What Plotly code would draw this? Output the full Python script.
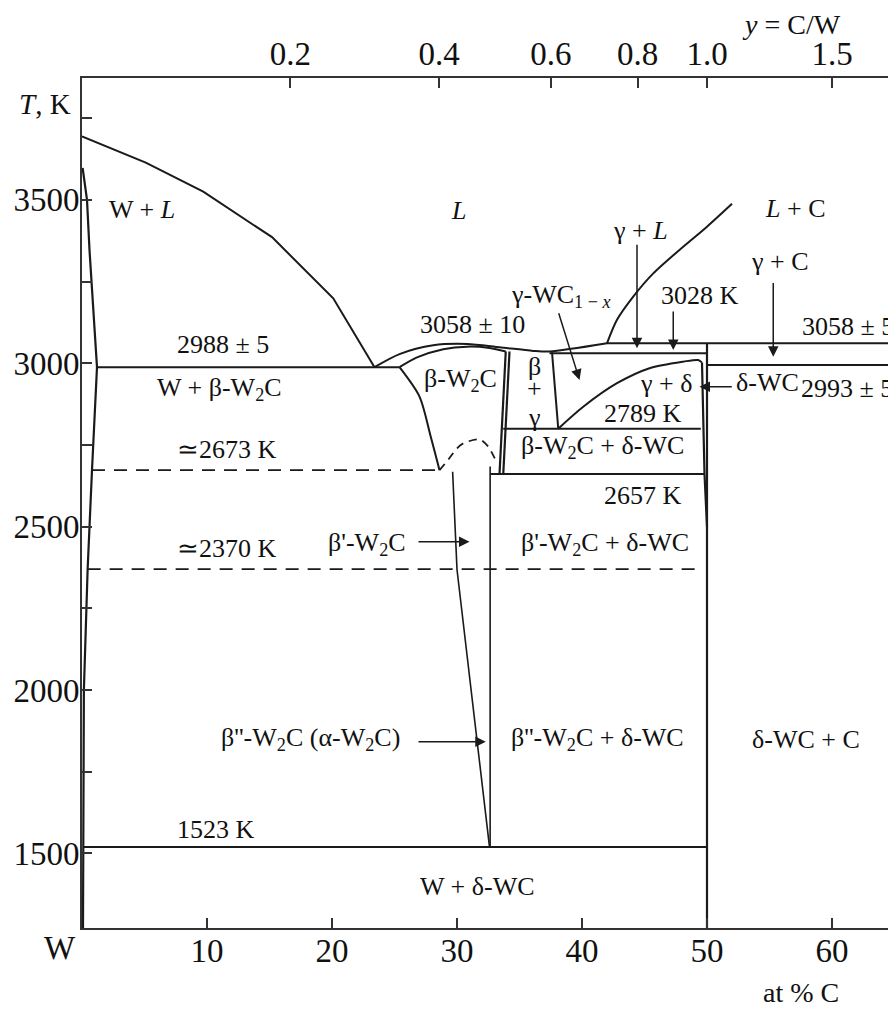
import plotly.graph_objects as go

# ---------------- data ----------------
# W-rich liquidus
liq_w_x = [0.0, 5.1, 9.7, 15.2, 20.1, 23.4]
liq_w_T = [3694, 3614, 3525, 3386, 3199, 2988]
# W solidus / solvus
sol_w_x = [0.05, 0.4, 0.6, 1.2, 0.8, 0.45, 0.15, 0.08]
sol_w_T = [3598, 3500, 3347, 2988, 2673, 2370, 2000, 1272]
# liquidus over beta-W2C and gamma
liq_mid_x = [23.4, 25.4, 28.1, 30.8, 33.4, 36.1, 37.4, 42.0]
liq_mid_T = [2988, 3028, 3055, 3059, 3049, 3038, 3036, 3061]
# beta-W2C solidus
sol_beta_x = [25.4, 26.8, 28.9, 30.8, 32.6, 33.9]
sol_beta_T = [2988, 3018, 3043, 3051, 3047, 3036]
# beta-W2C left solvus
solv_beta_x = [25.4, 27.0, 27.9, 28.6]
solv_beta_T = [2988, 2898, 2775, 2673]
# beta-W2C right boundary and beta+gamma left boundary
beta_r_x = [33.9, 33.4]
beta_r_T = [3036, 2661]
bg_l_x = [34.2, 33.7]
bg_l_T = [3036, 2661]
# beta+gamma right boundary
bg_r_x = [37.6, 38.1]
bg_r_T = [3034, 2800]
# gamma + delta boundary
gd_x = [38.1, 40.1, 42.8, 45.4, 48.1, 49.3, 49.6]
gd_T = [2800, 2867, 2939, 2985, 3005, 3010, 3002]
# delta-WC left boundary
dl_x = [49.6, 49.8, 50.0]
dl_T = [3002, 2661, 2500]
# WC line compound
wc_x = [50.0, 50.0]
wc_T = [3061, 1272]
# carbon-side liquidus
liq_c_x = [42.0, 42.8, 44.1, 45.7, 47.8, 50.0, 52.0]
liq_c_T = [3061, 3133, 3204, 3275, 3347, 3418, 3488]
# beta' / beta'' boundaries
bp_l_x = [29.65, 30.0, 32.6]
bp_l_T = [2668, 2369, 1520]
bp_r_x = [32.65, 32.65]
bp_r_T = [2684, 1520]
# dashed dome
dome_x = [28.6, 29.3, 30.0, 30.5, 31.8, 32.5, 33.2]
dome_T = [2673, 2705, 2740, 2755, 2767, 2745, 2694]
# isotherms: (x from, x to, T)
iso_solid = [
    (1.2, 25.4, 2988),
    (33.7, 49.5, 2800),
    (32.65, 49.8, 2661),
    (0.08, 50.0, 1520),
    (37.4, 50.0, 3031),
    (42.0, 66.0, 3061),
    (50.0, 66.0, 2995),
]
iso_dashed = [
    (0.8, 28.6, 2673),
    (0.45, 49.5, 2370),
]
# axes
x_ticks = [10, 20, 30, 40, 50, 60]
y_ticks = [1500, 2000, 2500, 3000, 3500]
y_minor = [1750, 2250, 2750, 3250, 3750]
ratio_ticks = [0.2, 0.4, 0.6, 0.8, 1.0, 1.5]
ratio_labels = ["0.2", "0.4", "0.6", "0.8", "1.0", "1.5"]

# ---------------- figure ----------------
INK = "#1a1a1a"
FONT = "Liberation Serif"
fig = go.Figure()


def add_line(xs, ts, width=2.0, dash=None, shape="linear"):
    fig.add_trace(go.Scatter(
        x=xs, y=ts, mode="lines",
        line=dict(color=INK, width=width, dash=dash, shape=shape, smoothing=0.8),
        hoverinfo="skip", showlegend=False))


add_line(liq_w_x, liq_w_T)
add_line(sol_w_x, sol_w_T, width=2.2)
add_line(liq_mid_x, liq_mid_T, shape="spline")
add_line(sol_beta_x, sol_beta_T, shape="spline")
add_line(solv_beta_x, solv_beta_T, shape="spline")
add_line(beta_r_x, beta_r_T, width=2.2)
add_line(bg_l_x, bg_l_T, width=2.2)
add_line(bg_r_x, bg_r_T)
add_line(gd_x, gd_T, shape="spline")
add_line(dl_x, dl_T, width=2.2)
add_line(wc_x, wc_T, width=2.2)
add_line(liq_c_x, liq_c_T, shape="spline")
add_line(bp_l_x, bp_l_T, width=1.6)
add_line(bp_r_x, bp_r_T, width=1.6)
add_line(dome_x, dome_T, width=1.8, dash="8px,6px", shape="spline")
for x0, x1, t in iso_solid:
    add_line([x0, x1], [t, t])
for x0, x1, t in iso_dashed:
    add_line([x0, x1], [t, t], width=1.8, dash="13px,9px")

# invisible trace so the top axis is drawn
top_pos = [100 * r / (1 + r) for r in ratio_ticks]
fig.add_trace(go.Scatter(x=[top_pos[0]], y=[2000], xaxis="x2", mode="markers",
                         marker=dict(opacity=0), hoverinfo="skip", showlegend=False))

TS = 26
labels = [
    ("W + <i>L</i>", 4.8, 3472),
    ("<i>L</i>", 30.1, 3469),
    ("<i>L</i> + C", 57.0, 3475),
    ("γ + <i>L</i>", 44.7, 3405),
    ("γ + C", 55.8, 3310),
    ("3028 K", 49.4, 3208),
    ("γ-WC<sub>1 − <i>x</i></sub>", 38.3, 3206),
    ("3058 ± 10", 31.2, 3120),
    ("3058 ± 5", 61.3, 3114),
    ("2988 ± 5", 11.3, 3056),
    ("W + β-W<sub>2</sub>C", 11.0, 2921),
    ("β-W<sub>2</sub>C", 30.3, 2949),
    ("β", 36.2, 2990),
    ("+", 36.2, 2924),
    ("γ", 36.2, 2833),
    ("γ + δ", 46.7, 2938),
    ("δ-WC", 54.8, 2940),
    ("2993 ± 5", 61.2, 2923),
    ("2789 K", 44.9, 2846),
    ("β-W<sub>2</sub>C + δ-WC", 41.6, 2744),
    ("≃2673 K", 11.6, 2735),
    ("2657 K", 44.9, 2594),
    ("β'-W<sub>2</sub>C", 22.8, 2447),
    ("β'-W<sub>2</sub>C + δ-WC", 41.8, 2447),
    ("≃2370 K", 11.6, 2432),
    ("β''-W<sub>2</sub>C (α-W<sub>2</sub>C)", 18.3, 1850),
    ("β''-W<sub>2</sub>C + δ-WC", 41.2, 1850),
    ("δ-WC + C", 57.9, 1850),
    ("1523 K", 10.7, 1572),
    ("W + δ-WC", 31.6, 1398),
]
for text, x, t in labels:
    fig.add_annotation(x=x, y=t, text=text, showarrow=False,
                       font=dict(family=FONT, size=TS, color="#111"))

# arrows: (tip x, tip T, tail x, tail T)
arrows = [
    (44.4, 3046, 44.4, 3367),
    (47.3, 3041, 47.3, 3163),
    (55.3, 3020, 55.3, 3250),
    (49.4, 2928, 52.1, 2928),
    (39.8, 2949, 38.1, 3158),
    (31.0, 2454, 26.8, 2454),
    (32.3, 1842, 26.8, 1842),
]
for hx, ht, tx, tt in arrows:
    fig.add_annotation(x=hx, y=ht, ax=tx, ay=tt, xref="x", yref="y",
                       axref="x", ayref="y", text="", showarrow=True,
                       arrowhead=2, arrowsize=1.4, arrowwidth=1.5,
                       arrowcolor=INK, standoff=0, startstandoff=0)

# axis titles (paper coordinates, outside the plotting area)
outside = [
    ("<i>T</i>, K", -0.0453, 0.9694, 29),
    ("<i>y</i> = C/W", 0.8797, 1.0625, 28),
    ("at % C", 0.892, -0.076, 28),
    ("W", -0.0273, -0.0235, 33),
]
for text, xp, yp, fs in outside:
    fig.add_annotation(x=xp, y=yp, xref="paper", yref="paper", text=text,
                       showarrow=False, xanchor="center", yanchor="middle",
                       font=dict(family=FONT, size=fs, color="#111"))

XR = [0, 64.48]
axis_common = dict(showline=True, linecolor="#333", linewidth=2, ticks="inside",
                   ticklen=10, tickwidth=1.5, tickcolor="#333", showgrid=False,
                   zeroline=False, automargin=False,
                   tickfont=dict(family=FONT, size=33, color="#111"))
fig.update_layout(
    width=880, height=1000,
    margin=dict(l=74, r=0, t=70, b=80, autoexpand=False),
    paper_bgcolor="white", plot_bgcolor="white",
    xaxis=dict(range=XR, tickvals=x_ticks, ticktext=[str(v) for v in x_ticks],
               ticklabelstandoff=-8, **axis_common),
    xaxis2=dict(range=XR, overlaying="x", side="top", tickvals=top_pos,
                ticktext=ratio_labels, ticklabelstandoff=-2, **axis_common),
    yaxis=dict(range=[1272, 3873], tickvals=y_ticks,
               ticktext=[str(v) for v in y_ticks], ticklabelstandoff=-6,
               minor=dict(tickvals=y_minor, ticks="inside", ticklen=10,
                          tickwidth=1.5, tickcolor="#333"),
               **axis_common),
)
fig.write_html("out.html")
